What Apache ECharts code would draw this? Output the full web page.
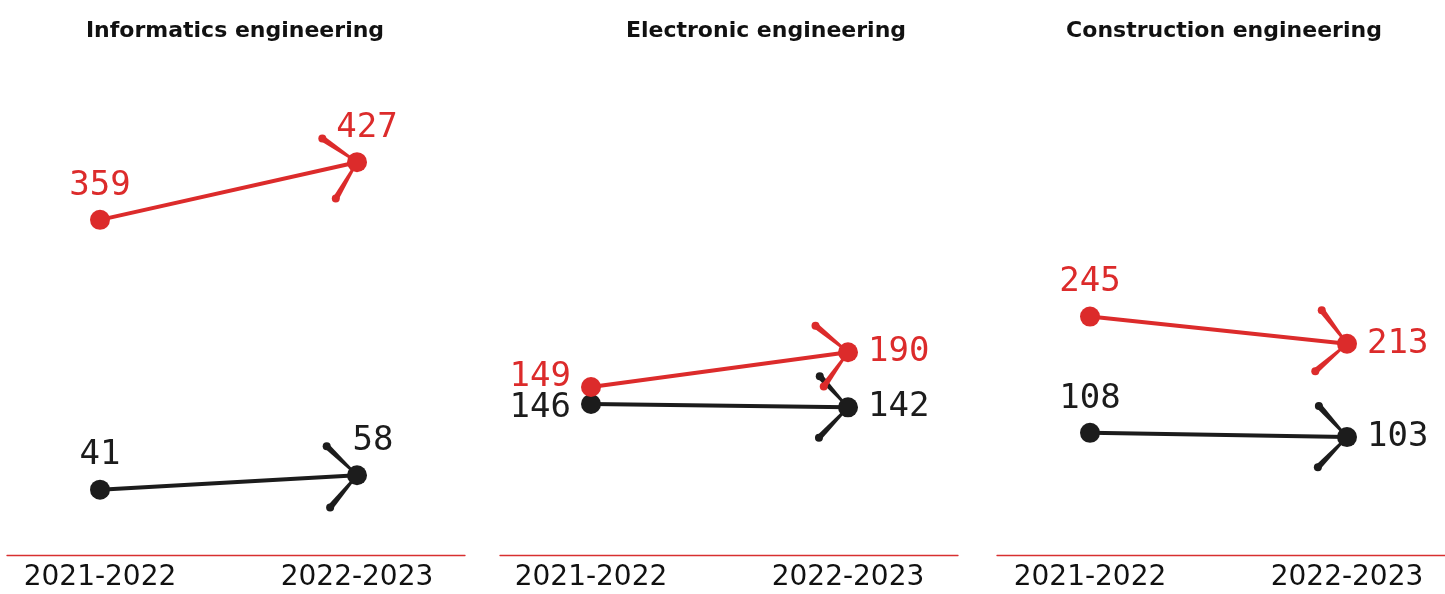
<!DOCTYPE html>
<html>
<head>
<meta charset="utf-8">
<script src="https://cdn.jsdelivr.net/npm/echarts@6/dist/echarts.min.js"></script>
<style>
  html, body { margin: 0; padding: 0; background: #fff; }
  #chart { width: 1445px; height: 594px; }
</style>
</head>
<body>
<div id="chart"></div>
<script>
// data
var panels = ['Informatics engineering', 'Electronic engineering', 'Construction engineering'];
var years = ['2021-2022', '2022-2023'];
var redValues = [[359, 427], [149, 190], [245, 213]];
var blackValues = [[41, 58], [146, 142], [108, 103]];

// layout
var RED = '#dc2b2b';
var BLACK = '#1c1c1c';
var plotLeft = [100, 591, 1090];
var plotWidth = 257;
var baseLeft = [7, 500, 997];
var baseWidth = 458;
var titleX = [235, 766, 1224];
var yMin = -36, yMax = 505;
// small vertical dodge (in axis units) so overlapping lines stay readable: [black, red]
var dodge = [[0, 0], [4, -13], [0, 0]];
// label placement per panel: [black, red] -> per point [position, offset]
var labelPos = [
  [[['top', [0, 0]], ['top', [16, 0]]], [['top', [0, 0]], ['top', [10, 0]]]],
  [[['left', [0, 4]], ['right', [0, 0]]], [['left', [0, -10]], ['right', [0, 0]]]],
  [[['top', [0, 0]], ['right', [0, 0]]], [['top', [0, 0]], ['right', [0, 0]]]]
];
var barbLen = 42;
var barbSpread = 47 * Math.PI / 180;

function barbRender(color) {
  return function (params, api) {
    var a = api.coord([api.value(0), api.value(1)]);
    var b = api.coord([api.value(2), api.value(3)]);
    var ang = Math.atan2(a[1] - b[1], a[0] - b[0]);
    var children = [];
    [-1, 1].forEach(function (s) {
      var t = ang + s * barbSpread;
      var tx = b[0] + barbLen * Math.cos(t), ty = b[1] + barbLen * Math.sin(t);
      var nx = -Math.sin(t), ny = Math.cos(t);
      children.push({
        type: 'polygon',
        shape: { points: [
          [b[0] + nx * 1.1, b[1] + ny * 1.1],
          [tx + nx * 3, ty + ny * 3],
          [tx - nx * 3, ty - ny * 3],
          [b[0] - nx * 1.1, b[1] - ny * 1.1]
        ] },
        style: { fill: color }
      });
      children.push({ type: 'circle', shape: { cx: tx, cy: ty, r: 4 }, style: { fill: color } });
    });
    return { type: 'group', children: children };
  };
}

var chart = echarts.init(document.getElementById('chart'));

var grids = [], xAxes = [], yAxes = [], series = [], titles = [];

panels.forEach(function (name, i) {
  titles.push({
    text: name,
    left: titleX[i],
    top: 20,
    textAlign: 'center',
    padding: 0,
    textStyle: { fontFamily: 'DejaVu Sans', fontWeight: 'bold', fontSize: 22, color: '#111' }
  });

  var g = grids.length;
  grids.push({ left: plotLeft[i], width: plotWidth, top: 96, bottom: 39 });
  grids.push({ left: baseLeft[i], width: baseWidth, top: 96, bottom: 39 });

  var xData = xAxes.length;
  xAxes.push({
    type: 'category', gridIndex: g, data: years, boundaryGap: false,
    axisLine: { show: false }, axisTick: { show: false }, splitLine: { show: false },
    axisLabel: { interval: 0, margin: 9, fontFamily: 'DejaVu Sans', fontSize: 28, color: '#111' }
  });
  xAxes.push({
    type: 'value', gridIndex: g + 1, min: 0, max: 1,
    axisLine: { show: true, onZero: false, lineStyle: { color: '#d83030', width: 1.3 } },
    axisTick: { show: false }, axisLabel: { show: false }, splitLine: { show: false }
  });

  var yBlack = yAxes.length;
  yAxes.push({ type: 'value', gridIndex: g, show: false, min: yMin + dodge[i][0], max: yMax + dodge[i][0] });
  yAxes.push({ type: 'value', gridIndex: g, show: false, min: yMin + dodge[i][1], max: yMax + dodge[i][1] });
  yAxes.push({ type: 'value', gridIndex: g + 1, show: false, min: 0, max: 1 });

  [[blackValues[i], BLACK], [redValues[i], RED]].forEach(function (pair, k) {
    var vals = pair[0], color = pair[1];
    series.push({
      type: 'custom',
      xAxisIndex: xData, yAxisIndex: yBlack + k,
      z: 1 + k * 2,
      silent: true,
      encode: { x: [0, 2], y: [1, 3] },
      data: [[0, vals[0], 1, vals[1]]],
      renderItem: barbRender(color)
    });
    series.push({
      type: 'line',
      xAxisIndex: xData, yAxisIndex: yBlack + k,
      z: 2 + k * 2,
      symbol: 'circle', symbolSize: 20,
      lineStyle: { color: color, width: 4 },
      itemStyle: { color: color },
      data: vals.map(function (v, j) {
        var lp = labelPos[i][k][j];
        return {
          value: v,
          label: {
            show: true, position: lp[0], offset: lp[1],
            distance: lp[0] === 'top' ? 7 : 10,
            fontFamily: 'DejaVu Sans Mono', fontSize: 34, color: color
          }
        };
      })
    });
  });
});

chart.setOption({
  animation: false,
  backgroundColor: '#fff',
  title: titles,
  grid: grids,
  xAxis: xAxes,
  yAxis: yAxes,
  series: series
});
</script>
</body>
</html>
